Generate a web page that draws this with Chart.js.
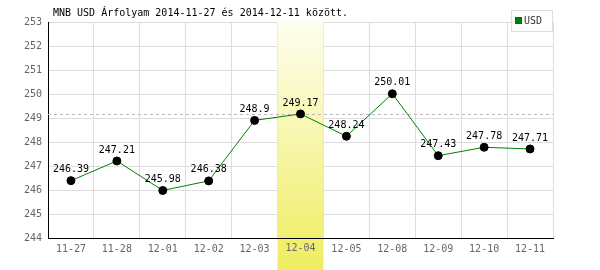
<!DOCTYPE html>
<html>
<head>
<meta charset="utf-8">
<script src="https://cdn.jsdelivr.net/npm/chart.js@4/dist/chart.umd.min.js"></script>
<style>
    body { margin: 0; background: #fff; }
    canvas { display: block; }
</style>
</head>
<body>
<canvas id="canvas" width="600" height="270"></canvas>
<script>
// Données
const days = ['11-27', '11-28', '12-01', '12-02', '12-03', '12-04', '12-05', '12-08', '12-09', '12-10', '12-11'];
const usdRates = [246.39, 247.21, 245.98, 246.38, 248.9, 249.17, 248.24, 250.01, 247.43, 247.78, 247.71];
const yTicks = [244, 245, 246, 247, 248, 249, 250, 251, 252, 253];
const highlightDay = '12-04';
const refRate = 249.17;

const titleText = 'MNB USD Árfolyam 2014-11-27 és 2014-12-11 között.';
const mono = '"DejaVu Sans Mono", monospace';

// Bande jaune sous la journée sélectionnée + ligne pointillée de référence
const bandPlugin = {
    id: 'band',
    beforeDatasetsDraw(chart) {
        const ctx = chart.ctx;
        const x = chart.scales.x;
        const y = chart.scales.y;
        const area = chart.chartArea;
        const idx = days.indexOf(highlightDay);
        const half = (area.right - area.left) / days.length / 2;
        const cx = x.getPixelForValue(idx);

        ctx.save();
        let grad = ctx.createLinearGradient(0, area.top, 0, chart.height);
        grad.addColorStop(0, '#fefeee');
        grad.addColorStop(1, '#efed60');
        ctx.fillStyle = grad;
        ctx.fillRect(cx - half, area.top, half * 2, chart.height - area.top);

        // réaffiche l'axe du bas et l'étiquette par-dessus la bande
        ctx.strokeStyle = '#000';
        ctx.lineWidth = 1;
        ctx.beginPath();
        ctx.moveTo(area.left, area.bottom + 0.5);
        ctx.lineTo(area.right, area.bottom + 0.5);
        ctx.stroke();

        ctx.font = '10px ' + mono;
        ctx.fillStyle = '#666';
        ctx.textAlign = 'center';
        ctx.textBaseline = 'middle';
        ctx.fillText(highlightDay, cx, area.bottom + 10.5);

        // ligne pointillée
        const ry = Math.round(y.getPixelForValue(refRate)) + 0.5;
        ctx.strokeStyle = '#bbbbbb';
        ctx.setLineDash([3, 3]);
        ctx.beginPath();
        ctx.moveTo(area.left, ry);
        ctx.lineTo(area.right, ry);
        ctx.stroke();
        ctx.restore();
    },
    afterDatasetsDraw(chart) {
        const ctx = chart.ctx;
        const meta = chart.getDatasetMeta(0);
        ctx.save();
        ctx.font = '10px ' + mono;
        ctx.fillStyle = '#000';
        ctx.textAlign = 'center';
        ctx.textBaseline = 'middle';
        meta.data.forEach((pt, i) => {
            ctx.fillText(String(usdRates[i]), pt.x, pt.y - 11);
        });
        ctx.restore();
    },
    afterDraw(chart) {
        const ctx = chart.ctx;
        ctx.save();
        // titre
        ctx.font = '10px ' + mono;
        ctx.fillStyle = '#000';
        ctx.textBaseline = 'middle';
        ctx.fillText(titleText, 53, 13);

        // légende
        ctx.fillStyle = '#fff';
        ctx.fillRect(511, 10, 41, 21);
        ctx.strokeStyle = '#dddddd';
        ctx.strokeRect(511.5, 10.5, 41, 21);
        ctx.fillStyle = '#008000';
        ctx.fillRect(515, 17, 7, 7);
        ctx.strokeStyle = '#444';
        ctx.strokeRect(515.5, 17.5, 6, 6);
        ctx.fillStyle = '#333';
        ctx.fillText('USD', 524, 21);
        ctx.restore();
    }
};

new Chart(
    document.querySelector('#canvas'),
    {
        type: 'line',
        data: {
            labels: days,
            datasets: [
                {
                    label: 'USD',
                    data: usdRates,
                    borderColor: '#008000',
                    borderWidth: 1,
                    backgroundColor: '#000',
                    pointBackgroundColor: '#000',
                    pointBorderColor: '#000',
                    pointRadius: 4,
                    tension: 0
                }
            ]
        },
        options: {
            responsive: false,
            animation: false,
            layout: {
                padding: { top: 22, right: 47, left: 0, bottom: 0 }
            },
            plugins: {
                legend: { display: false },
                title: { display: false },
                tooltip: { enabled: false }
            },
            scales: {
                x: {
                    offset: true,
                    grid: {
                        offset: true,
                        color: '#dddddd',
                        drawTicks: false
                    },
                    border: { color: '#000', width: 1 },
                    ticks: {
                        color: '#666',
                        padding: 5,
                        maxRotation: 0,
                        autoSkip: false,
                        font: { family: mono, size: 10 }
                    },
                    afterFit(scale) { scale.height = 32; }
                },
                y: {
                    min: 244,
                    max: 253,
                    afterBuildTicks(scale) {
                        scale.ticks = yTicks.map(v => ({ value: v }));
                    },
                    grid: {
                        color: '#dddddd',
                        drawTicks: false
                    },
                    border: { color: '#000', width: 1 },
                    ticks: {
                        color: '#666',
                        padding: 6,
                        font: { family: mono, size: 10 }
                    },
                    afterFit(scale) { scale.width = 48; }
                }
            }
        },
        plugins: [bandPlugin]
    }
);
</script>
</body>
</html>
